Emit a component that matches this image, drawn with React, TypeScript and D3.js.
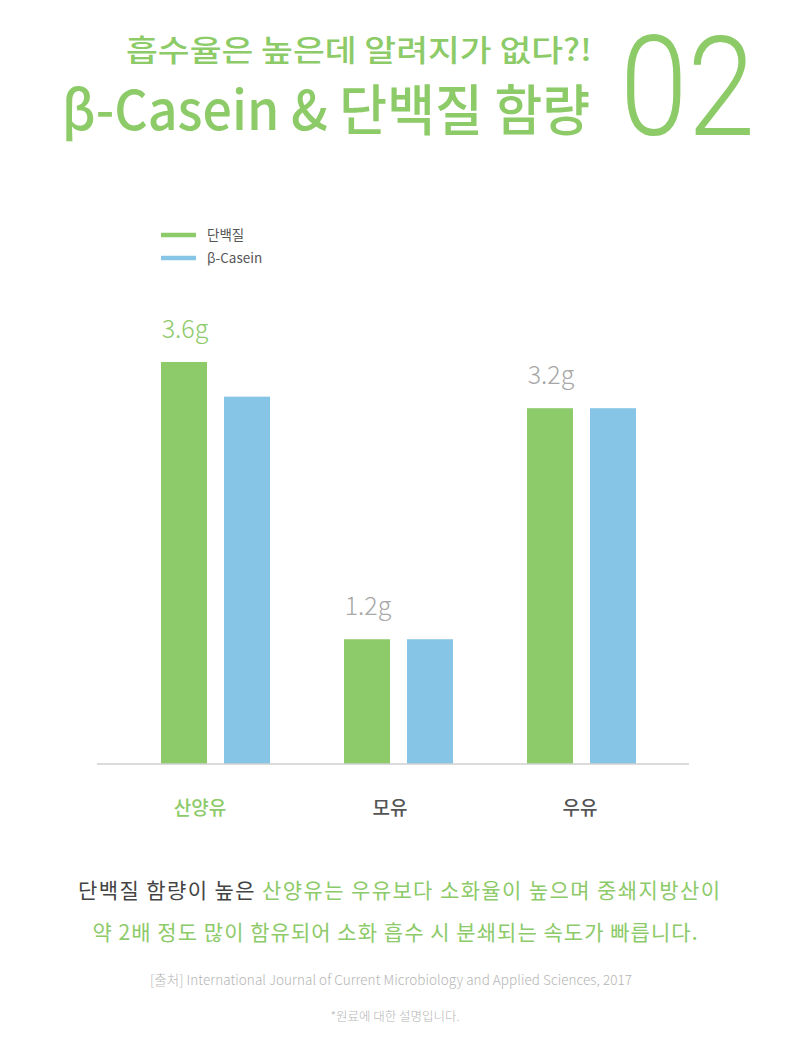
import * as d3 from 'd3';

// chart data
const categories = ['산양유', '모유', '우유'];
const series = ['단백질', 'β-Casein'];
const proteinValues = [3.6, 1.2, 3.2];
const caseinValues = [3.3, 1.2, 3.2];
const valueLabels = ['3.6g', '1.2g', '3.2g'];

const W = 790;
const H = 1042;
const GREEN = '#8dca69';
const BLUE = '#86c5e5';
const TITLE_GREEN = '#8ccb68';
const GRAY = '#555555';
const LIGHT = '#a8a8a8';
const FONT = "'Noto Sans CJK KR', 'Noto Sans', sans-serif";

export default function App() {
  const baseline = 764;

  // Scales
  const x0 = d3.scaleBand<string>().domain(categories).range([124, 673]);
  const x1 = d3.scaleBand<string>().domain(series).range([0, 109]).paddingInner(0.27);
  const groupOffset = (x0.bandwidth() - 109) / 2;
  const y = d3.scaleLinear().domain([0.12, 3.6]).range([baseline, 362]);
  const labelX = d3.scalePoint<string>().domain(categories).range([200, 580]);

  const color = d3.scaleOrdinal<string, string>().domain(series).range([GREEN, BLUE]);
  const valuesBySeries = [proteinValues, caseinValues];

  return (
    <svg width={W} height={H} style={{ position: 'absolute', left: 0, top: 0, background: '#fff' }} fontFamily={FONT}>
      {/* Title */}
      <text x={592} y={61} textAnchor="end" fontSize={30} fontWeight={500} fill={TITLE_GREEN}
        textLength={466} lengthAdjust="spacingAndGlyphs">
        흡수율은 높은데 알려지가 없다?!
      </text>
      <text x={590} y={130} textAnchor="end" fontSize={55} fontWeight={500} fill={TITLE_GREEN}
        textLength={528} lengthAdjust="spacingAndGlyphs">
        β-Casein &amp; 단백질 함량
      </text>
      <text x={620} y={135} fontSize={140} fontWeight={300} fill={TITLE_GREEN}
        fontFamily="Roboto, 'Noto Sans', sans-serif" textLength={135} lengthAdjust="spacingAndGlyphs">
        02
      </text>

      {/* Legend */}
      {series.map((s, i) => (
        <g key={s} transform={`translate(161,${235 + i * 23})`}>
          <line x1={0} x2={35} y1={0} y2={0} stroke={color(s)} strokeWidth={4.5} />
          <text x={46} y={5} fontSize={13.5} fill={GRAY}>{s}</text>
        </g>
      ))}

      {/* Bars */}
      {categories.map((c, ci) => (
        <g key={c} transform={`translate(${(x0(c) ?? 0) + groupOffset},0)`}>
          {series.map((s, si) => {
            const v = valuesBySeries[si][ci];
            return (
              <rect key={s} x={x1(s)} y={y(v)} width={x1.bandwidth()} height={baseline - y(v)} fill={color(s)} />
            );
          })}
          <text x={(x1(series[0]) ?? 0) + x1.bandwidth() / 2 + 1} y={y(proteinValues[ci]) - 24}
            textAnchor="middle" fontSize={25} fontWeight={300} fill={ci === 0 ? GREEN : LIGHT}>
            {valueLabels[ci]}
          </text>
        </g>
      ))}

      {/* Axis */}
      <line x1={97} x2={689} y1={baseline} y2={baseline} stroke="#cfcfcf" strokeWidth={1.5} />
      {categories.map((c, ci) => (
        <text key={c} x={labelX(c)} y={815} textAnchor="middle" fontSize={19} fontWeight={500}
          fill={ci === 0 ? GREEN : GRAY}>
          {c}
        </text>
      ))}

      {/* Description */}
      <text x={399} y={898} textAnchor="middle" fontSize={21} fill="#444" textLength={642}>
        단백질 함량이 높은 <tspan fill={GREEN}>산양유는 우유보다 소화율이 높으며 중쇄지방산이</tspan>
      </text>
      <text x={395} y={940} textAnchor="middle" fontSize={21} fill={GREEN} textLength={605}>
        약 2배 정도 많이 함유되어 소화 흡수 시 분쇄되는 속도가 빠릅니다.
      </text>
      <text x={391} y={985} textAnchor="middle" fontSize={13.5} fontWeight={300} fill="#b5b5b5" textLength={482}>
        [출처] International Journal of Current Microbiology and Applied Sciences, 2017
      </text>
      <text x={395} y={1021} textAnchor="middle" fontSize={12.5} fontWeight={300} fill="#b5b5b5">
        *원료에 대한 설명입니다.
      </text>
    </svg>
  );
}
